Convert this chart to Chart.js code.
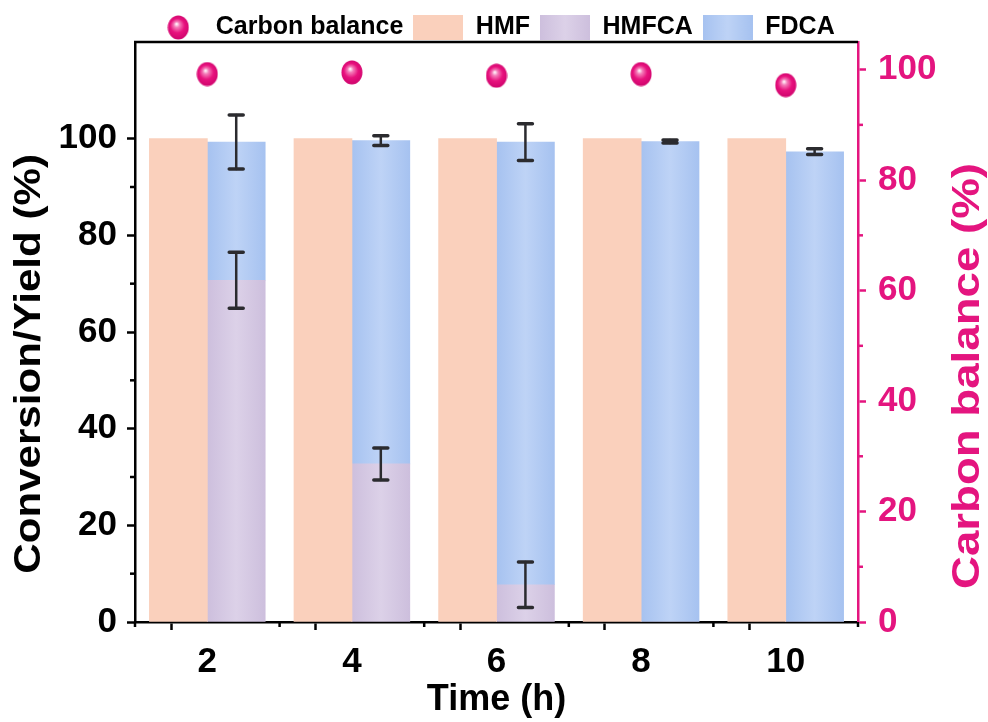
<!DOCTYPE html>
<html><head><meta charset="utf-8">
<script src="https://cdn.jsdelivr.net/npm/chart.js@4.4.1/dist/chart.umd.min.js"></script>
<style>html,body{margin:0;padding:0;background:#fff}#wrap{width:988px;height:722px;position:relative}</style>
</head><body><div id="wrap"><canvas id="c"></canvas></div>
<script>
// ---- data ----
const times = [2, 4, 6, 8, 10];
const hmfConversion = [100, 100, 100, 100, 100];
const hmfcaYield = [70.7, 32.7, 7.7, 0, 0];
const fdcaYield = [28.6, 66.9, 91.6, 99.4, 97.3];
const hmfcaErr = [5.8, 3.3, 4.7, 0, 0];
const fdcaErr = [5.6, 1.0, 3.8, 0.3, 0.6];
const carbonBalance = [99.2, 99.5, 98.9, 99.2, 97.2];
const leftTicks = [0, 10, 20, 30, 40, 50, 60, 70, 80, 90, 100];
const rightTicks = [0, 10, 20, 30, 40, 50, 60, 70, 80, 90, 100];
const xTicks = [1, 2, 3, 4, 5, 6, 7, 8, 9, 10, 11];
const xTitle = 'Time (h)';
const yTitle = 'Conversion/Yield (%)';
const y1Title = 'Carbon balance (%)';

// ---- style ----
const FONT = "'Liberation Sans', Arial, sans-serif";
const MAG = '#E4157F';
const SHIFT = 0.4;
const BAR_W = 58;

function sphere(w, h) {
  const c = document.createElement('canvas'); c.width = w; c.height = h;
  const g = c.getContext('2d');
  const grd = g.createRadialGradient(w * 0.42, h * 0.36, 0.5, w * 0.5, h * 0.5, Math.max(w, h) * 0.55);
  grd.addColorStop(0, '#FFF0F8'); grd.addColorStop(0.18, '#F47DB9');
  grd.addColorStop(0.5, '#E8127E'); grd.addColorStop(1, '#C80068');
  g.fillStyle = grd; g.beginPath(); g.ellipse(w / 2, h / 2, w / 2 - 0.5, h / 2 - 0.5, 0, 0, Math.PI * 2); g.fill();
  return c;
}
function box(edge, mid, w, h) {
  const c = document.createElement('canvas'); c.width = w; c.height = h;
  const g = c.getContext('2d');
  const grd = g.createLinearGradient(0, 0, w, 0);
  grd.addColorStop(0, edge); grd.addColorStop(0.5, mid); grd.addColorStop(1, edge);
  g.fillStyle = grd; g.fillRect(0, 0, w, h); return c;
}
const COL = {
  hmf: ['#FAD0BC', '#FAD0BC'],
  hmfca: ['#CDBFDD', '#DCD1E8'],
  fdca: ['#A6C2F0', '#BED3F6']
};
const markerImg = sphere(22, 25);
const legendImgs = [sphere(22, 25), box(COL.hmf[0], COL.hmf[1], 50, 25), box(COL.hmfca[0], COL.hmfca[1], 50, 25), box(COL.fdca[0], COL.fdca[1], 50, 25)];

function barGrad(edge, mid) {
  return (ctx) => {
    const ch = ctx.chart, xs = ch.scales && ch.scales.x;
    if (!xs || ctx.type !== 'data' || !ctx.raw) return edge;
    const px = xs.getPixelForValue(ctx.raw.x);
    if (!isFinite(px)) return edge;
    const g = ch.ctx.createLinearGradient(px - BAR_W / 2, 0, px + BAR_W / 2, 0);
    g.addColorStop(0, edge); g.addColorStop(0.5, mid); g.addColorStop(1, edge);
    return g;
  };
}

const errPlugin = {
  id: 'errbars',
  afterDatasetsDraw(chart) {
    const { ctx, scales: { x, y } } = chart;
    ctx.save();
    ctx.strokeStyle = '#2B2B2F'; ctx.lineCap = 'round';
    const draw = (px, v, e) => {
      if (!e) return;
      const top = y.getPixelForValue(v + e), bot = y.getPixelForValue(v - e);
      ctx.lineWidth = 2.5;
      ctx.beginPath(); ctx.moveTo(px, top); ctx.lineTo(px, bot); ctx.stroke();
      ctx.lineWidth = 3.5;
      ctx.beginPath(); ctx.moveTo(px - 7, top); ctx.lineTo(px + 7, top);
      ctx.moveTo(px - 7, bot); ctx.lineTo(px + 7, bot); ctx.stroke();
    };
    times.forEach((t, i) => {
      const px = x.getPixelForValue(t + SHIFT);
      draw(px, hmfcaYield[i], hmfcaErr[i]);
      draw(px, hmfcaYield[i] + fdcaYield[i], fdcaErr[i]);
    });
    ctx.restore();
  }
};

function vTitle(ctx, text, x, y, size, color) {
  ctx.save();
  ctx.translate(x, y);
  ctx.rotate(-Math.PI / 2);
  ctx.scale(1.17, 1);
  ctx.font = 'bold ' + size + 'px ' + FONT;
  ctx.textAlign = 'center'; ctx.textBaseline = 'alphabetic';
  ctx.fillStyle = color;
  ctx.fillText(text, 0, 0);
  ctx.restore();
}

const framePlugin = {
  id: 'frame',
  afterDraw(chart) {
    const { ctx, chartArea: a, scales: { x, y, y1 } } = chart;
    ctx.save();
    ctx.lineWidth = 2.5; ctx.strokeStyle = '#000';
    ctx.beginPath(); ctx.moveTo(a.left - 1, a.top); ctx.lineTo(a.right, a.top); ctx.stroke();
    leftTicks.filter(v => v % 20 !== 0).forEach(v => {
      const py = y.getPixelForValue(v);
      ctx.beginPath(); ctx.moveTo(a.left, py); ctx.lineTo(a.left - 5, py); ctx.stroke();
    });
    xTicks.filter(v => v % 2 !== 0).forEach(v => {
      const px = x.getPixelForValue(v);
      ctx.beginPath(); ctx.moveTo(px, a.bottom); ctx.lineTo(px, a.bottom + 5); ctx.stroke();
    });
    ctx.strokeStyle = MAG;
    rightTicks.filter(v => v % 20 !== 0).forEach(v => {
      const py = y1.getPixelForValue(v);
      ctx.beginPath(); ctx.moveTo(a.right, py); ctx.lineTo(a.right + 5, py); ctx.stroke();
    });
    ctx.restore();
    const h = a.bottom - a.top;
    vTitle(ctx, yTitle, 39.5, a.top + h * 0.555, 36, '#000');
    vTitle(ctx, y1Title, 979, a.top + h * 0.576, 39, MAG);
  }
};

const majorColor = (col, step) => (c) => (c.tick && c.tick.value % step === 0) ? col : 'rgba(0,0,0,0)';

new Chart(document.getElementById('c'), {
  type: 'bar',
  data: {
    datasets: [
      {
        type: 'line', label: 'Carbon balance', yAxisID: 'y1', order: 0,
        data: times.map((t, i) => ({ x: t, y: carbonBalance[i] })),
        showLine: false, pointStyle: markerImg, pointRadius: 12,
        backgroundColor: MAG, borderColor: MAG
      },
      {
        label: 'HMF', order: 1, stack: 'conv', yAxisID: 'y',
        data: times.map((t, i) => ({ x: t - SHIFT, y: hmfConversion[i] })),
        backgroundColor: COL.hmf[0], borderWidth: 0
      },
      {
        label: 'HMFCA', order: 2, stack: 'yield', yAxisID: 'y',
        data: times.map((t, i) => ({ x: t + SHIFT, y: hmfcaYield[i] })),
        backgroundColor: barGrad(COL.hmfca[0], COL.hmfca[1]), borderWidth: 0
      },
      {
        label: 'FDCA', order: 3, stack: 'yield', yAxisID: 'y',
        data: times.map((t, i) => ({ x: t + SHIFT, y: fdcaYield[i] })),
        backgroundColor: barGrad(COL.fdca[0], COL.fdca[1]), borderWidth: 0
      }
    ]
  },
  options: {
    responsive: true, maintainAspectRatio: false, animation: false,
    layout: { padding: { top: 5, left: 0, right: 0, bottom: 0 } },
    datasets: { bar: { grouped: false, barThickness: BAR_W } },
    plugins: {
      tooltip: { enabled: false },
      legend: {
        position: 'top', maxHeight: 37,
        labels: {
          usePointStyle: true, pointStyleWidth: 50, padding: 10, color: '#000',
          font: { family: FONT, size: 25, weight: 'bold' },
          generateLabels(chart) {
            const items = Chart.defaults.plugins.legend.labels.generateLabels(chart);
            items.forEach(it => { it.pointStyle = legendImgs[it.datasetIndex]; });
            return items;
          }
        }
      }
    },
    scales: {
      x: {
        type: 'linear', min: 1, max: 11, offset: false, stacked: true,
        afterBuildTicks(s) { s.ticks = xTicks.map(v => ({ value: v })); },
        afterFit(s) { s.height = 100; },
        grid: { display: true, drawOnChartArea: false, drawTicks: true, tickLength: 8, tickWidth: 2.5, tickColor: majorColor('#000', 2) },
        border: { display: true, color: '#000', width: 2.5 },
        ticks: { autoSkip: false, maxRotation: 0, padding: 11, color: '#000', font: { family: FONT, size: 35, weight: 'bold' },
          callback: (v) => (v % 2 === 0 ? String(v) : '') },
        title: { display: true, text: xTitle, color: '#000', padding: { top: 0, bottom: 0 }, font: { family: FONT, size: 36, weight: 'bold' } }
      },
      y: {
        position: 'left', min: 0, max: 120, stacked: true,
        afterBuildTicks(s) { s.ticks = leftTicks.map(v => ({ value: v })); },
        afterFit(s) { s.width = 135; },
        grid: { display: true, drawOnChartArea: false, drawTicks: true, tickLength: 8, tickWidth: 2.5, tickColor: majorColor('#000', 20) },
        border: { display: true, color: '#000', width: 2.5 },
        ticks: { autoSkip: false, padding: 10, color: '#000', font: { family: FONT, size: 35, weight: 'bold' },
          callback: (v) => (v % 20 === 0 ? String(v) : '') },
        title: { display: false, text: yTitle }
      },
      y1: {
        position: 'right', min: 0, max: 105,
        afterBuildTicks(s) { s.ticks = rightTicks.map(v => ({ value: v })); },
        afterFit(s) { s.width = 130; },
        grid: { display: true, drawOnChartArea: false, drawTicks: true, tickLength: 8, tickWidth: 2.5, tickColor: majorColor(MAG, 20) },
        border: { display: true, color: MAG, width: 2.5 },
        ticks: { autoSkip: false, padding: 12, color: MAG, font: { family: FONT, size: 35, weight: 'bold' },
          callback: (v) => (v % 20 === 0 ? String(v) : '') },
        title: { display: false, text: y1Title }
      }
    }
  },
  plugins: [errPlugin, framePlugin]
});
</script>
</body></html>
